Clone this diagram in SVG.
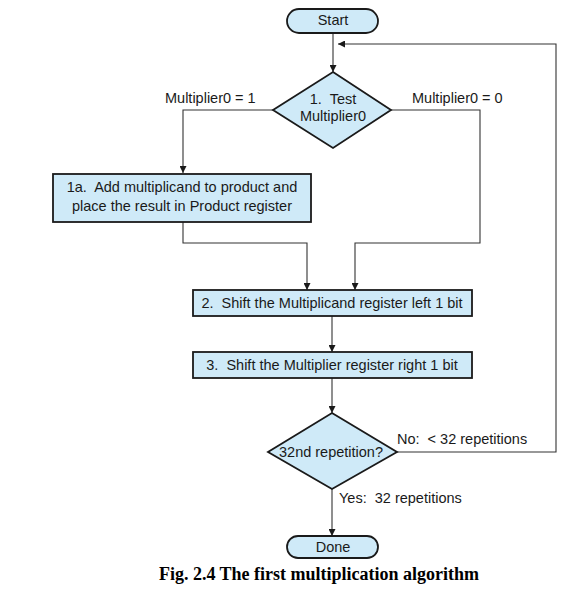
<svg xmlns="http://www.w3.org/2000/svg" width="583" height="595" viewBox="0 0 583 595">
<style>
.n{fill:#cfeaf8;stroke:#1a1a1a;stroke-width:1.8}
.t{font-family:"Liberation Sans",Arial,sans-serif;font-size:14.5px;fill:#1a1a1a;text-anchor:middle;white-space:pre}
.l{font-family:"Liberation Sans",Arial,sans-serif;font-size:14.5px;fill:#1a1a1a;white-space:pre}
.c{fill:none;stroke:#333;stroke-width:1.1}
.cap{font-family:"Liberation Serif","Times New Roman",serif;font-size:18px;font-weight:bold;fill:#000}
</style>
<defs>
<marker id="ah" viewBox="0 0 10 10" refX="10" refY="5" markerWidth="7" markerHeight="7" markerUnits="userSpaceOnUse" orient="auto">
<path d="M0,0 L10,5 L0,10 z" fill="#1a1a1a"/>
</marker>
</defs>
<rect width="583" height="595" fill="#fff"/>
<g id="connectors">
<path class="c" d="M333,33 V72" marker-end="url(#ah)"/>
<path class="c" d="M397,452 H556 V44 H338" marker-end="url(#ah)"/>
<path class="c" d="M273,110 H183 V173" marker-end="url(#ah)"/>
<path class="c" d="M391,110 H480 V243 H355 V290" marker-end="url(#ah)"/>
<path class="c" d="M183,222 V243 H307 V290" marker-end="url(#ah)"/>
<path class="c" d="M332,316 V352" marker-end="url(#ah)"/>
<path class="c" d="M332,378 V413" marker-end="url(#ah)"/>
<path class="c" d="M332,489 V536" marker-end="url(#ah)"/>
<text class="l" x="165" y="103" xml:space="preserve">Multiplier0 = 1</text>
<text class="l" x="412" y="103" xml:space="preserve">Multiplier0 = 0</text>
<text class="l" x="397" y="444" xml:space="preserve">No:  &lt; 32 repetitions</text>
<text class="l" x="339" y="503" xml:space="preserve">Yes:  32 repetitions</text>
</g>
<g id="start">
<rect class="n" x="287" y="9" width="91" height="24" rx="12"/>
<text class="t" x="333" y="25">Start</text>
</g>
<g id="test">
<path class="n" d="M333,72 L391,110 L333,148 L273,110 z"/>
<text class="t" x="333" y="104" xml:space="preserve">1.  Test</text>
<text class="t" x="333" y="121">Multiplier0</text>
</g>
<g id="add">
<rect class="n" x="53" y="174" width="258" height="48"/>
<text class="t" x="182" y="192" xml:space="preserve">1a.  Add multiplicand to product and</text>
<text class="t" x="182" y="211" xml:space="preserve">place the result in Product register</text>
</g>
<g id="shift1">
<rect class="n" x="193" y="290" width="279" height="26"/>
<text class="t" x="332" y="308" xml:space="preserve">2.  Shift the Multiplicand register left 1 bit</text>
</g>
<g id="shift2">
<rect class="n" x="193" y="352" width="279" height="26"/>
<text class="t" x="332" y="370" xml:space="preserve">3.  Shift the Multiplier register right 1 bit</text>
</g>
<g id="rep">
<path class="n" d="M332,413 L397,452 L332,489 L268,452 z"/>
<text class="t" x="331" y="457">32nd repetition?</text>
</g>
<g id="done">
<rect class="n" x="287" y="536" width="91" height="22" rx="11"/>
<text class="t" x="333" y="552">Done</text>
</g>
<text class="cap" x="319" y="580" text-anchor="middle">Fig. 2.4 The first multiplication algorithm</text>
</svg>
